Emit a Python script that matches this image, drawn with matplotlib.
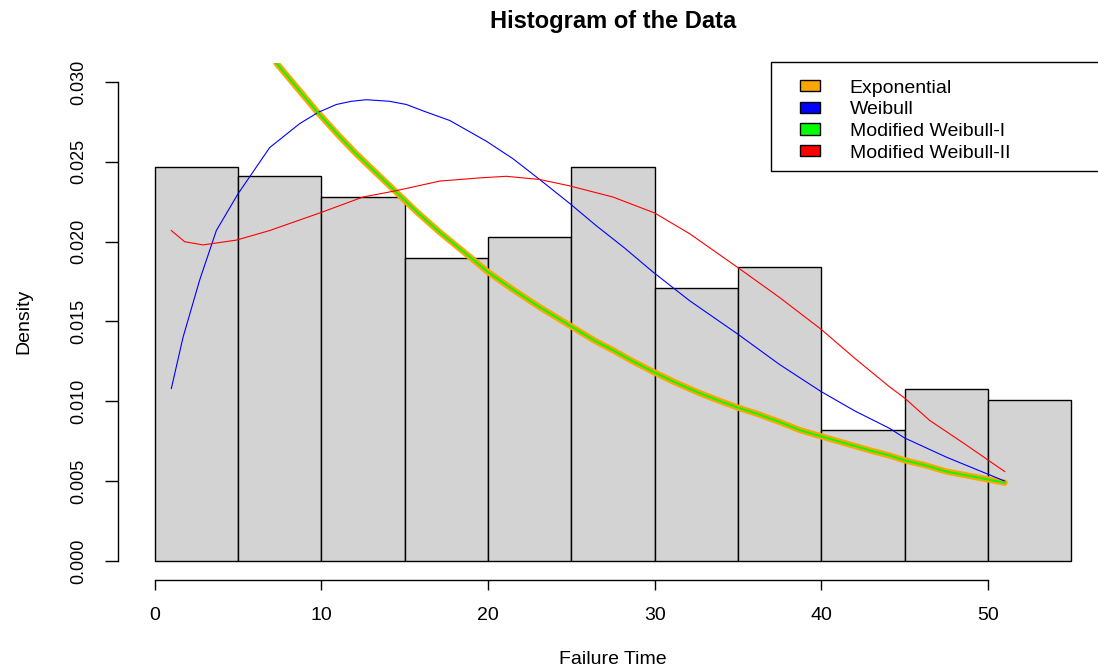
import matplotlib.pyplot as plt
from matplotlib.patches import Patch, Rectangle

plt.rcParams['font.family'] = ['Liberation Sans', 'DejaVu Sans']

# histogram (breaks every 5 units, density scale)
bin_edges = [0, 5, 10, 15, 20, 25, 30, 35, 40, 45, 50, 55]
bin_density = [0.0247, 0.0241, 0.0228, 0.0190, 0.0203, 0.0247,
               0.0171, 0.0184, 0.0082, 0.0108, 0.0101]

# fitted densities read along failure time
exp_x = [7.3, 8.5, 9.7, 11.0, 12.1, 13.3, 14.5, 15.8, 17.1, 18.5, 20.0,
         21.5, 23.1, 24.2, 25.3, 26.4, 27.5, 28.7, 30.0, 31.2, 32.5, 33.7,
         35.0, 36.2, 37.5, 38.7, 40.0, 41.0, 42.0, 43.0, 44.1, 45.0, 46.2,
         47.5, 49.0, 51.0]
exp_y = [0.0312, 0.0297, 0.0282, 0.0267, 0.0255, 0.0243, 0.0231, 0.0218,
         0.0206, 0.0194, 0.0181, 0.0170, 0.0159, 0.0152, 0.0145, 0.0138,
         0.0132, 0.0125, 0.0118, 0.0112, 0.0106, 0.0101, 0.0096, 0.0092,
         0.0087, 0.0082, 0.0078, 0.0075, 0.0072, 0.0069, 0.0066, 0.0063,
         0.0060, 0.0056, 0.0053, 0.0049]

mw1_x = list(exp_x)
mw1_y = [0.0312, 0.0297, 0.0282, 0.0267, 0.0255, 0.0243, 0.0231, 0.0218,
         0.0206, 0.0194, 0.0181, 0.0170, 0.0159, 0.0152, 0.0145, 0.0138,
         0.0132, 0.0125, 0.0118, 0.0112, 0.0106, 0.0101, 0.0096, 0.0092,
         0.0087, 0.0082, 0.0078, 0.0075, 0.0072, 0.0069, 0.0066, 0.0063,
         0.0060, 0.0056, 0.0053, 0.0049]

weib_x = [1.0, 1.7, 2.7, 3.7, 5.0, 6.9, 8.7, 9.8, 10.9, 11.8, 12.7, 14.1,
          15.1, 16.1, 17.7, 19.9, 21.5, 23.1, 24.9, 26.5, 28.2, 29.9, 32.1,
          35.0, 37.5, 40.0, 42.0, 44.1, 45.0, 47.5, 51.0]
weib_y = [0.0108, 0.0140, 0.0176, 0.0207, 0.0230, 0.0259, 0.0274, 0.0281,
          0.0286, 0.0288, 0.0289, 0.0288, 0.0286, 0.0282, 0.0276, 0.0263,
          0.0252, 0.0239, 0.0224, 0.0210, 0.0196, 0.0181, 0.0163, 0.0142,
          0.0123, 0.0106, 0.0094, 0.0083, 0.0077, 0.0065, 0.0050]

mw2_x = [1.0, 1.8, 2.9, 4.9, 6.9, 9.9, 12.5, 14.5, 17.1, 19.5, 21.1, 23.1,
         24.9, 27.5, 30.0, 32.1, 35.1, 37.5, 40.0, 42.0, 44.1, 45.0, 46.5,
         48.5, 51.0]
mw2_y = [0.0207, 0.0200, 0.0198, 0.0201, 0.0207, 0.0218, 0.0228, 0.0232,
         0.0238, 0.0240, 0.0241, 0.0239, 0.0235, 0.0228, 0.0218, 0.0205,
         0.0183, 0.0165, 0.0145, 0.0127, 0.0109, 0.0102, 0.0088, 0.0074,
         0.0056]

legend_labels = ['Exponential', 'Weibull', 'Modified Weibull-I', 'Modified Weibull-II']
legend_colors = ['orange', 'blue', '#00FF00', 'red']

fig = plt.figure(figsize=(10.98, 6.71), dpi=100)
ax = fig.add_axes([0.10747, 0.13562, 0.90164, 0.77049])

widths = [b - a for a, b in zip(bin_edges[:-1], bin_edges[1:])]
ax.bar(bin_edges[:-1], bin_density, width=widths, align='edge',
       color='#D3D3D3', edgecolor='black', linewidth=1.0)

ax.plot(exp_x, exp_y, color='orange', lw=4.5, solid_capstyle='round',
        solid_joinstyle='round')
ax.plot(weib_x, weib_y, color='blue', lw=0.8)
ax.plot(mw1_x, mw1_y, color='#00FF00', lw=1.4, solid_joinstyle='round')
ax.plot(mw2_x, mw2_y, color='red', lw=0.8)

ax.set_xlim(-2.2, 57.2)
ax.set_ylim(-0.0012, 0.0312)

for s in ['top', 'right']:
    ax.spines[s].set_visible(False)
ax.spines['left'].set_bounds(0, 0.030)
ax.spines['bottom'].set_bounds(0, 50)
ax.spines['left'].set_linewidth(1.0)
ax.spines['bottom'].set_linewidth(1.0)

ax.set_xticks([0, 10, 20, 30, 40, 50])
ax.set_yticks([0.000, 0.005, 0.010, 0.015, 0.020, 0.025, 0.030])
ax.set_yticklabels(['0.000', '0.005', '0.010', '0.015', '0.020', '0.025', '0.030'],
                   rotation=90, va='center')
ax.tick_params(axis='x', length=7.2, width=1.0, pad=12.6, labelsize=14)
ax.tick_params(axis='y', length=9.4, width=1.0, pad=13, labelsize=13)

ax.set_title('Histogram of the Data', fontsize=17, fontweight='bold', pad=25)
ax.set_xlabel('Failure Time', fontsize=14, labelpad=19)
ax.set_ylabel('Density', fontsize=14, labelpad=27)

# legend frame drawn separately so it runs to the plot edge
ax.add_patch(Rectangle((0.6596, 0.7911), 0.40, 0.2108, transform=ax.transAxes,
                       facecolor='white', edgecolor='black', lw=1.0,
                       clip_on=False, zorder=5))
handles = [Patch(facecolor=c, edgecolor='black', lw=1.0) for c in legend_colors]
leg = ax.legend(handles, legend_labels, loc='upper left',
                bbox_to_anchor=(0.6747, 0.9942), frameon=False,
                fontsize=14, handlelength=1.03, handleheight=0.5,
                handletextpad=1.54, labelspacing=0.24, borderpad=0.2)
leg.set_zorder(6)

fig.savefig('out.png', dpi=100)
